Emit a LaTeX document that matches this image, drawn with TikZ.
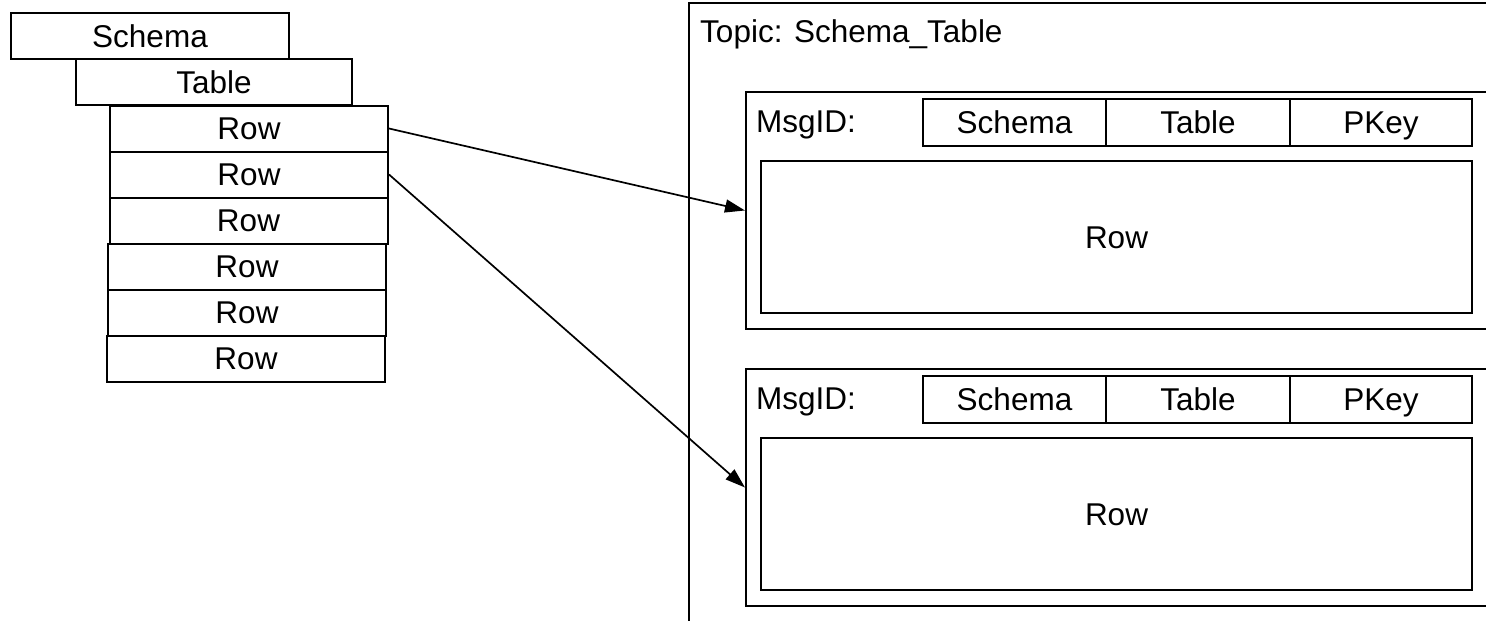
\documentclass[tikz,border=0pt]{standalone}
\usepackage{fontspec}
\setmainfont{Liberation Sans}
\usetikzlibrary{arrows.meta}
\colorlet{lnx}{black}
\tikzset{
    cell/.style={lnx,draw,line width=2pt,inner sep=0pt,text height=22pt,text depth=0pt,font=\fontsize{31.5}{37}\selectfont},
    frame/.style={lnx,draw,line width=2pt,inner sep=0pt},
    lbl/.style={inner sep=0pt,font=\fontsize{31.5}{37}\selectfont},
    conn/.style={lnx,line width=1.7pt,-{Triangle[length=20pt,width=13pt]}}
}
\begin{document}
\begin{tikzpicture}[x=1pt,y=-1pt]
            \useasboundingbox (0,0) rectangle (1486,621);
            \clip (0,0) rectangle (1486,621);
            \node [cell,minimum width=278,minimum height=46] (schema) at (150,36) {Schema};
            \node [cell,minimum width=276,minimum height=46] (table) at (214,82) {Table};
            \foreach \i/\x in {1/249,2/249,3/248.5,4/247,5/247,6/246} {
                \node [cell,minimum width=278,minimum height=46] (row\i) at (\x,82.5+46*\i) {Row};
            }
            \node [frame,anchor=north west,minimum width=820,minimum height=660] (topic) at (688,2) {};
            \node [lbl,anchor=base west] (topictxt) at (700,42) {Topic: Schema\_Table};
            \foreach \k/\top in {1/91,2/368} {
                \node [frame,anchor=north west,minimum width=770,minimum height=237] (msg\k) at (745,\top) {};
                \node [lbl,anchor=base west] (msgid\k) at (756,\top+41) {MsgID:};
                \node [cell,minimum width=183,minimum height=47] (schema\k) at (1014.5,\top+31.5) {Schema};
                \node [cell,minimum width=184,minimum height=47] (table\k) at (1198,\top+31.5) {Table};
                \node [cell,minimum width=182,minimum height=47] (pkey\k) at (1381,\top+31.5) {PKey};
                \node [cell,minimum width=711,minimum height=152] (data\k) at (1116.5,\top+146) {Row};
            }
            \draw [conn] (row1.east) -- (msg1.west);
            \draw [conn] (row2.east) -- (msg2.west);
        \end{tikzpicture}
\end{document}
